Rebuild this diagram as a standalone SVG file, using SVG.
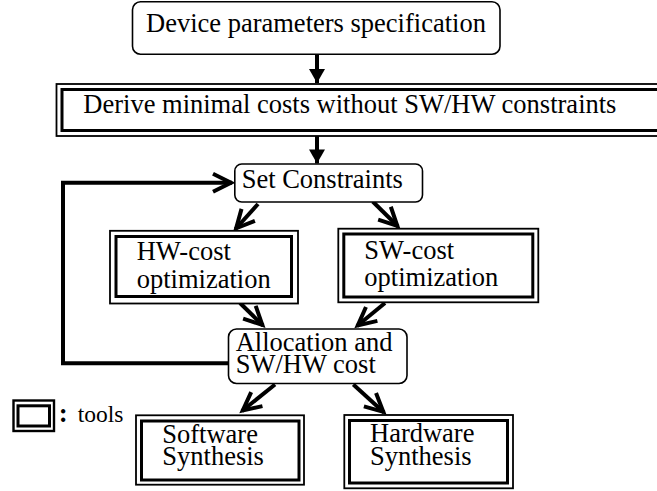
<svg xmlns="http://www.w3.org/2000/svg" width="657" height="491" viewBox="0 0 657 491">
  <style>
    .lbl { font-family: "Liberation Serif", "Times New Roman", serif; font-size: 26.5px; fill: #000; }
    .small { font-family: "Liberation Serif", "Times New Roman", serif; font-size: 23.5px; fill: #000; }
    .round { fill: #fff; stroke: #000; stroke-width: 1.6; }
    .outer { fill: #fff; stroke: #000; stroke-width: 1.8; }
    .inner { fill: none; stroke: #000; stroke-width: 3; }
    .wire { fill: none; stroke: #000; stroke-width: 4; }
  </style>
  <defs>
    <marker id="solid" markerUnits="userSpaceOnUse" viewBox="-16 -10 18 20" markerWidth="18" markerHeight="20" refX="0" refY="0" orient="auto">
      <path d="M -14 -8 L 0 0 L -14 8 Z" fill="#000"/>
    </marker>
    <marker id="open" markerUnits="userSpaceOnUse" viewBox="-24 -14 28 28" markerWidth="28" markerHeight="28" refX="0" refY="0" orient="auto">
      <path d="M -19 -9 L -1 0 L -19 9" fill="none" stroke="#000" stroke-width="4" stroke-linejoin="miter"/>
    </marker>
  </defs>

  <!-- connectors -->
  <g id="connectors">
    <line class="wire" x1="317" y1="54" x2="317" y2="83" marker-end="url(#solid)"/>
    <line class="wire" x1="317" y1="136" x2="317" y2="163.5" marker-end="url(#solid)"/>
    <polyline class="wire" points="228,363.3 63,363.3 63,182.7 232,182.7" marker-end="url(#open)"/>
    <line class="wire" x1="258" y1="204" x2="235.5" y2="229" marker-end="url(#open)"/>
    <line class="wire" x1="372.7" y1="201.5" x2="398" y2="226.5" marker-end="url(#open)"/>
    <line class="wire" x1="240" y1="303" x2="263" y2="325.5" marker-end="url(#open)"/>
    <line class="wire" x1="385" y1="303" x2="357" y2="326" marker-end="url(#open)"/>
    <line class="wire" x1="275" y1="384.5" x2="242" y2="411" marker-end="url(#open)"/>
    <line class="wire" x1="353.3" y1="384.5" x2="384" y2="412.5" marker-end="url(#open)"/>
  </g>

  <g id="device-spec">
    <rect class="round" x="132.5" y="1.8" width="367.5" height="52.4" rx="8"/>
    <text class="lbl" x="146" y="32.3">Device parameters specification</text>
  </g>

  <g id="derive-costs">
    <rect class="outer" x="56.5" y="84" width="620" height="52"/>
    <rect class="inner" x="62" y="89.5" width="610" height="41"/>
    <text class="lbl" x="83.3" y="113.3">Derive minimal costs without SW/HW constraints</text>
  </g>

  <g id="set-constraints">
    <rect class="round" x="234.8" y="164" width="187.7" height="38" rx="7"/>
    <text class="lbl" x="241.7" y="187.7">Set Constraints</text>
  </g>

  <g id="hw-cost">
    <rect class="outer" x="110" y="230.8" width="188" height="72.7"/>
    <rect class="inner" x="116" y="236.5" width="175.5" height="60"/>
    <text class="lbl" x="136.7" y="260">HW-cost<tspan x="136.7" dy="27.7">optimization</tspan></text>
  </g>

  <g id="sw-cost">
    <rect class="outer" x="338.3" y="228.7" width="200" height="73.6"/>
    <rect class="inner" x="343.8" y="234" width="189" height="63"/>
    <text class="lbl" x="364.3" y="259">SW-cost<tspan x="364.3" dy="26.7">optimization</tspan></text>
  </g>

  <g id="allocation">
    <rect class="round" x="228.5" y="329" width="178.5" height="54.5" rx="8"/>
    <text class="lbl" x="235.7" y="350.7">Allocation and<tspan x="235.7" dy="22.6">SW/HW cost</tspan></text>
  </g>

  <g id="legend">
    <rect class="outer" x="13.5" y="400.5" width="40.5" height="30.5" style="stroke-width:2.4"/>
    <rect class="inner" x="18" y="405.8" width="31.5" height="20.2"/>
    <text class="lbl" x="58.7" y="421.5" style="font-size:27px;font-weight:bold">:</text>
    <text class="small" x="77.7" y="421.7">tools</text>
  </g>

  <g id="software-synthesis">
    <rect class="outer" x="136" y="415.3" width="168" height="69.4"/>
    <rect class="inner" x="141.5" y="421" width="157.5" height="59"/>
    <text class="lbl" x="162.3" y="442.7">Software<tspan x="162.3" dy="22.3">Synthesis</tspan></text>
  </g>

  <g id="hardware-synthesis">
    <rect class="outer" x="344.3" y="415" width="168.7" height="73.3"/>
    <rect class="inner" x="349.5" y="420.5" width="158" height="62.5"/>
    <text class="lbl" x="370" y="442.3">Hardware<tspan x="370" dy="22.7">Synthesis</tspan></text>
  </g>
</svg>
